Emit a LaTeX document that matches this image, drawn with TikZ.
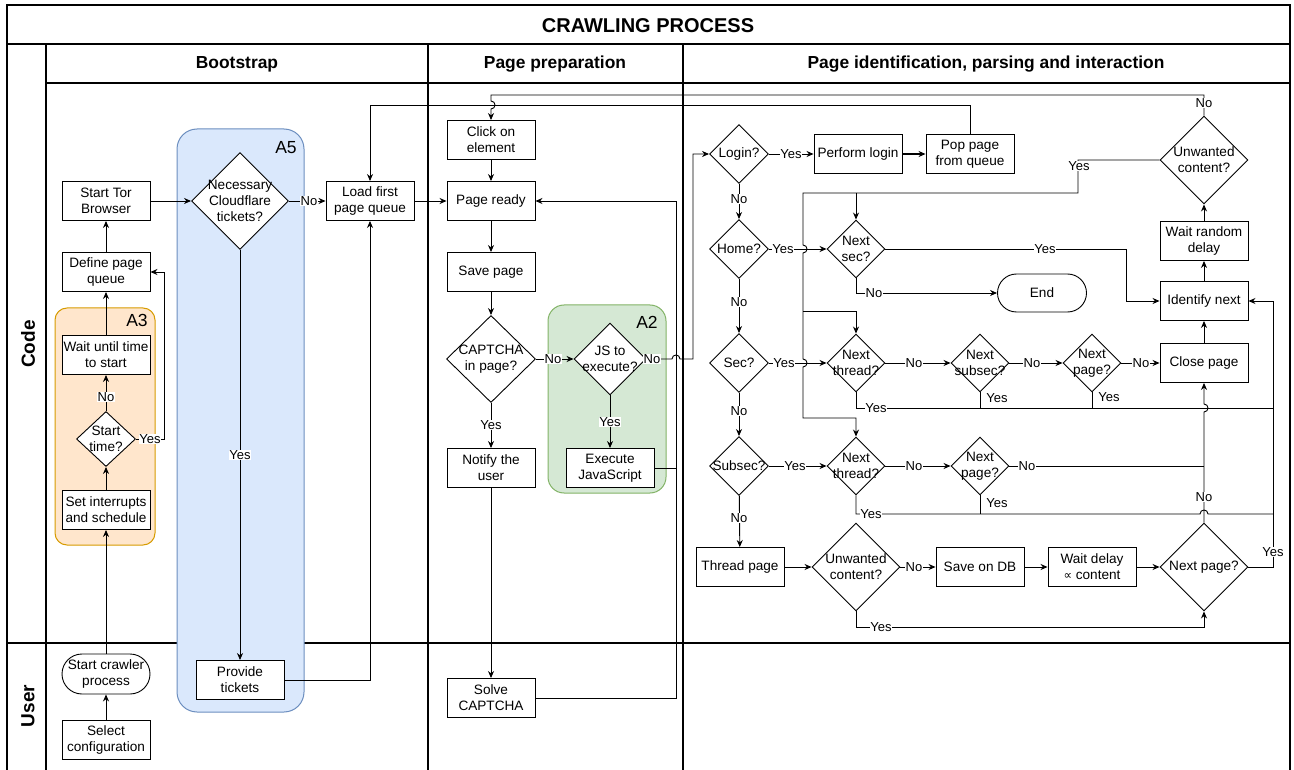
\documentclass[tikz,border=0pt]{standalone}
\usepackage{fontspec}
\setmainfont{Liberation Sans}
\newfontfamily\djv{DejaVu Sans}
\usetikzlibrary{shapes.geometric,arrows.meta}
\definecolor{bluefill}{HTML}{DAE8FC}
\definecolor{bluedraw}{HTML}{6C8EBF}
\definecolor{orfill}{HTML}{FFE6CC}
\definecolor{ordraw}{HTML}{D79B00}
\definecolor{grfill}{HTML}{D5E8D4}
\definecolor{grdraw}{HTML}{82B366}
\tikzset{
  nfont/.style={font=\fontsize{13.6}{16}\selectfont},
  box/.style={draw, rectangle, fill=white, line width=0.9pt, minimum width=88, minimum height=39, inner sep=1pt, align=center, nfont},
  term/.style={box, rounded corners=19},
  dia/.style={draw, diamond, fill=white, line width=0.9pt, inner sep=0pt},
  dl/.style={nfont, align=center, inner sep=0pt},
  elbl/.style={fill=white, inner sep=0.8pt, font=\fontsize{13}{15}\selectfont},
  arr/.style={line width=0.9pt, -{Stealth[length=7pt,width=6pt]}},
  ln/.style={line width=0.9pt},
  tbl/.style={line width=1.8pt},
  grplbl/.style={font=\fontsize{17.5}{20}\selectfont, inner sep=0pt},
  hdr/.style={font=\bfseries\fontsize{17.4}{20}\selectfont},
  lane/.style={font=\bfseries\fontsize{19}{22}\selectfont, rotate=90},
}
\begin{document}
\begin{tikzpicture}[x=1pt,y=-1pt]
\useasboundingbox (0,0) rectangle (1294,770);
% ---------- table ----------
\draw[tbl] (7,5) rectangle (1290,776);
\draw[tbl] (7,44) -- (1290,44);
\draw[tbl] (46,83) -- (1290,83);
\draw[tbl] (46,44) -- (46,776);
\draw[tbl] (428,44) -- (428,776);
\draw[tbl] (683,44) -- (683,776);
\draw[tbl] (7,643) -- (1290,643);
\node[font=\bfseries\fontsize{20}{24}\selectfont] (title) at (648,26) {CRAWLING PROCESS};
\node[hdr] (hb) at (237,64) {Bootstrap};
\node[hdr] (hp) at (555,64) {Page preparation};
\node[hdr] (hi) at (986,64) {Page identification, parsing and interaction};
\node[lane] (lcode) at (28,344) {Code};
\node[lane] (luser) at (28,706) {User};
% ---------- groups ----------
\draw[line width=1pt, fill=bluefill, draw=bluedraw, rounded corners=20] (177,129) rectangle (304,712);
\node[grplbl] (a5l) at (286,148) {A5};
\draw[line width=1pt, fill=orfill, draw=ordraw, rounded corners=12] (55,308) rectangle (155,545);
\node[grplbl] (a3l) at (137,320) {A3};
\draw[line width=1pt, fill=grfill, draw=grdraw, rounded corners=16] (548,305) rectangle (666,493);
\node[grplbl] (a2l) at (647,322) {A2};
% ---------- bootstrap nodes ----------
\node[box] (tor) at (106,201) {Start Tor\\Browser};
\node[box] (defq) at (106,272) {Define page\\queue};
\node[box] (wait) at (106,355) {Wait until time\\to start};
\node[dia, minimum width=59, minimum height=55, label={[dl]center:{Start\\time?}}] (stt) at (106,439) {};
\node[box] (setint) at (106,510) {Set interrupts\\and schedule};
\node[term, minimum height=40, rounded corners=20] (scp) at (106,674) {Start crawler\\process};
\node[box] (selc) at (106,740) {Select\\configuration};
\node[dia, minimum width=97, minimum height=97, label={[dl]center:{Necessary\\Cloudflare\\tickets?}}] (cf) at (240,201) {};
\node[box] (loadq) at (370,201) {Load first\\page queue};
\node[box] (prov) at (240,680) {Provide\\tickets};
% ---------- page preparation nodes ----------
\node[box] (click) at (491,140) {Click on\\element};
\node[box] (ready) at (491,201) {Page ready};
\node[box] (save) at (491,272) {Save page};
\node[dia, minimum width=89, minimum height=87, label={[dl]center:{CAPTCHA\\in page?}}] (capd) at (491,359) {};
\node[dia, minimum width=72, minimum height=72, label={[dl]center:{JS to\\execute?}}] (jsd) at (610,359) {};
\node[box] (execjs) at (610,468) {Execute\\JavaScript};
\node[box] (notify) at (491,468) {Notify the\\user};
\node[box] (solve) at (491,698) {Solve\\CAPTCHA};
% ---------- identification nodes ----------
\node[dia, minimum width=59, minimum height=59, label={[dl]center:{Login?}}] (login) at (739,154) {};
\node[box] (plogin) at (858,154) {Perform login};
\node[box] (pop) at (970,154) {Pop page\\from queue};
\node[dia, minimum width=59, minimum height=59, label={[dl]center:{Home?}}] (home) at (739,249) {};
\node[dia, minimum width=58, minimum height=58, label={[dl]center:{Next\\sec?}}] (nsec) at (856,249) {};
\node[term, minimum width=89, minimum height=38] (endn) at (1042,293) {End};
\node[dia, minimum width=88, minimum height=88, label={[dl]center:{Unwanted\\content?}}] (unw1) at (1204,160) {};
\node[box] (wrd) at (1204,241) {Wait random\\delay};
\node[box] (idn) at (1204,301) {Identify next};
\node[dia, minimum width=59, minimum height=59, label={[dl]center:{Sec?}}] (sec) at (739,363) {};
\node[dia, minimum width=58, minimum height=58, label={[dl]center:{Next\\thread?}}] (nt1) at (856,363) {};
\node[dia, minimum width=58, minimum height=58, label={[dl]center:{Next\\subsec?}}] (nss) at (980,363) {};
\node[dia, minimum width=58, minimum height=58, label={[dl]center:{Next\\page?}}] (np1) at (1092,363) {};
\node[box] (close) at (1204,363) {Close page};
\node[dia, minimum width=59, minimum height=59, label={[dl]center:{Subsec?}}] (subsec) at (739,466) {};
\node[dia, minimum width=58, minimum height=58, label={[dl]center:{Next\\thread?}}] (nt2) at (856,466) {};
\node[dia, minimum width=58, minimum height=58, label={[dl]center:{Next\\page?}}] (np2) at (980,466) {};
\node[box] (thr) at (740,567) {Thread page};
\node[dia, minimum width=88, minimum height=88, label={[dl]center:{Unwanted\\content?}}] (unw2) at (856,567) {};
\node[box] (sdb) at (980,567) {Save on DB};
\node[box] (wdc) at (1092,567) {Wait delay\\{\djv\fontsize{12}{16}\selectfont ∝} content};
\node[dia, minimum width=88, minimum height=88, label={[dl]center:{Next page?}}] (np3) at (1204,567) {};
% ---------- bootstrap edges ----------
\draw[arr] (selc) -- (scp);
\draw[arr] (scp) -- (setint);
\draw[arr] (setint) -- (stt);
\draw[arr] (stt) -- (wait);
\draw[arr] (wait) -- (defq);
\draw[arr] (defq) -- (tor);
\draw[arr] (stt.east) -- (164,439) |- (defq.east);
\draw[arr] (tor) -- (cf);
\draw[arr] (cf) -- (loadq);
\draw[arr] (cf) -- (prov);
\draw[arr] (prov.east) -| (loadq.south);
\draw[arr] (pop.north) -- (970,105) -- (370,105) -- (loadq.north);
% ---------- page preparation edges ----------
\draw[arr] (unw1.north) -- (1204,95) -- (491,95) -- (491,101) .. controls (496.3,101) and (496.3,109) .. (491,109) -- (click.north);
\draw[arr] (click) -- (ready);
\draw[arr] (loadq) -- (ready);
\draw[arr] (ready) -- (save);
\draw[arr] (save) -- (capd);
\draw[arr] (capd) -- (jsd);
\draw[arr] (capd) -- (notify);
\draw[arr] (jsd) -- (execjs);
\draw[arr] (notify) -- (solve);
\draw[arr] (solve.east) -| (676,201) -- (ready.east);
\draw[ln] (execjs.east) -- (676,468);
\draw[arr] (jsd.east) -- (672,359) .. controls (672,353.7) and (680,353.7) .. (680,359) -- (693,359) -- (693,154) -- (login.west);
% ---------- identification edges ----------
\draw[arr] (login) -- (plogin);
\draw[line width=1.4pt, -{Stealth[length=7pt,width=6pt]}] (plogin) -- (pop);
\draw[arr] (login) -- (home);
\draw[arr] (home) -- (sec);
\draw[arr] (sec) -- (subsec);
\draw[arr] (subsec) -- (thr);
\draw[arr] (home) -- (nsec);
\draw[arr] (sec) -- (nt1);
\draw[arr] (subsec) -- (nt2);
\draw[arr] (unw1.west) -- (1078,160) -- (1078,193) -- (803,193) -- (803,245) .. controls (808.3,245) and (808.3,253) .. (803,253) -- (803,359) .. controls (808.3,359) and (808.3,367) .. (803,367) -- (803,418) -- (856,418) -- (nt2.north);
\draw[arr] (856,193) -- (nsec.north);
\draw[arr] (803,311) -- (856,311) -- (nt1.north);
\draw[arr] (nsec.east) -- (1126,249) |- (idn.west);
\draw[arr] (nsec.south) |- (endn.west);
\draw[arr] (nt1) -- (nss);
\draw[arr] (nss) -- (np1);
\draw[arr] (np1) -- (close);
\draw[arr] (nt2) -- (np2);
\draw[ln] (np2.east) -- (1204,466);
\draw[arr] (np3.north) -- (1204,412) .. controls (1209.3,412) and (1209.3,404) .. (1204,404) -- (close.south);
\draw[arr] (close) -- (idn);
\draw[arr] (idn) -- (wrd);
\draw[arr] (wrd) -- (unw1);
\draw[ln] (nt1.south) -- (856,408) -- (1273,408);
\draw[ln] (nss.south) -- (980,408);
\draw[ln] (np1.south) -- (1092,408);
\draw[ln] (nt2.south) -- (856,514) -- (1200,514) .. controls (1200,508.7) and (1208,508.7) .. (1208,514) -- (1273,514);
\draw[ln] (np2.south) -- (980,514);
\draw[arr] (np3.east) -- (1273,567) -- (1273,301) -- (idn.east);
\draw[arr] (thr) -- (unw2);
\draw[arr] (unw2) -- (sdb);
\draw[arr] (sdb) -- (wdc);
\draw[arr] (wdc) -- (np3);
\draw[arr] (unw2.south) -- (856,627) -| (np3.south);
% ---------- edge labels ----------
\node[elbl] (e1) at (106,397) {No};
\node[elbl] (e2) at (150,439) {Yes};
\node[elbl] (e3) at (309,201) {No};
\node[elbl] (e4) at (240,455) {Yes};
\node[elbl] (e5) at (1204,103) {No};
\node[elbl] (e6) at (553,359) {No};
\node[elbl] (e7) at (491,425) {Yes};
\node[elbl] (e8) at (610,422) {Yes};
\node[elbl] (e9) at (652,359) {No};
\node[elbl] (e10) at (791,154) {Yes};
\node[elbl] (e11) at (739,199) {No};
\node[elbl] (e12) at (739,302) {No};
\node[elbl] (e13) at (739,411) {No};
\node[elbl] (e14) at (739,518) {No};
\node[elbl] (e15) at (783,249) {Yes};
\node[elbl] (e16) at (784,363) {Yes};
\node[elbl] (e17) at (795,466) {Yes};
\node[elbl] (e18) at (1079,166) {Yes};
\node[elbl] (e19) at (1045,249) {Yes};
\node[elbl] (e20) at (874,293) {No};
\node[elbl] (e21) at (914,363) {No};
\node[elbl] (e22) at (1032,363) {No};
\node[elbl] (e23) at (1141,363) {No};
\node[elbl] (e24) at (914,466) {No};
\node[elbl] (e25) at (1027,466) {No};
\node[elbl] (e26) at (1204,497) {No};
\node[elbl] (e27) at (876,408) {Yes};
\node[elbl] (e28) at (997,398) {Yes};
\node[elbl] (e29) at (1109,397) {Yes};
\node[elbl] (e30) at (871,514) {Yes};
\node[elbl] (e31) at (997,503) {Yes};
\node[elbl] (e32) at (1273,552) {Yes};
\node[elbl] (e33) at (914,567) {No};
\node[elbl] (e34) at (881,627) {Yes};
\end{tikzpicture}
\end{document}
